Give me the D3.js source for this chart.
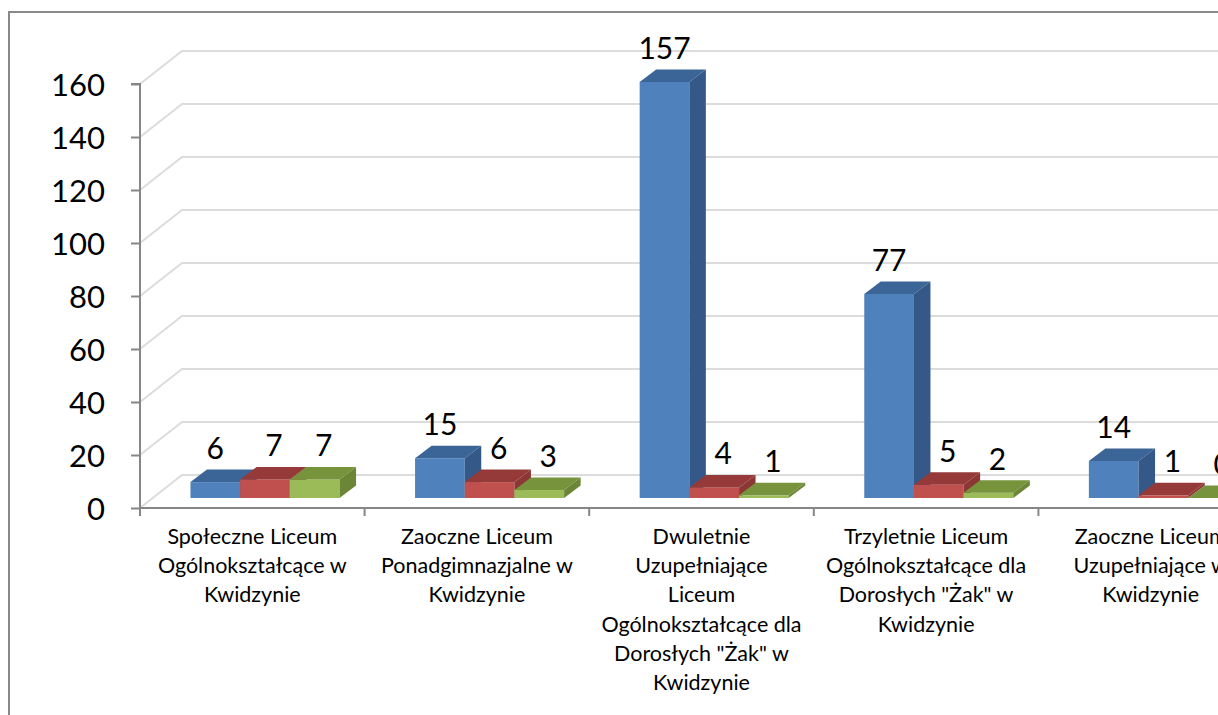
<!DOCTYPE html>
<html>
<head>
<meta charset="utf-8">
<script src="https://cdn.jsdelivr.net/npm/d3@7"></script>
<style>
  body { margin: 0; background: #fff; }
  svg { display: block; font-family: Lato, "Open Sans", sans-serif; }
</style>
</head>
<body>
<svg id="chart" width="1218" height="715"></svg>
<script>
// categories (already wrapped into lines as in the original)
var categories = [
  ["Społeczne Liceum", "Ogólnokształcące w", "Kwidzynie"],
  ["Zaoczne Liceum", "Ponadgimnazjalne w", "Kwidzynie"],
  ["Dwuletnie", "Uzupełniające", "Liceum", "Ogólnokształcące dla", "Dorosłych \"Żak\" w", "Kwidzynie"],
  ["Trzyletnie Liceum", "Ogólnokształcące dla", "Dorosłych \"Żak\" w", "Kwidzynie"],
  ["Zaoczne Liceum", "Uzupełniające w", "Kwidzynie"]
]
var seriesNames = ["s1", "s2", "s3"]
var series1 = [6, 15, 157, 77, 14]
var series2 = [7, 6, 4, 5, 1]
var series3 = [7, 3, 1, 2, 0]
var yTicks = [0, 20, 40, 60, 80, 100, 120, 140, 160]

var seriesValues = [series1, series2, series3]
var colors = [
  { front: '#4F81BD', top: '#3C6597', side: '#345887' },
  { front: '#C0504D', top: '#953A38', side: '#8C3735' },
  { front: '#9BBB59', top: '#77933C', side: '#6B8636' }
]

var svg = d3.select('#chart')

var plotLeft = 140, plotBottom = 508, plotTop = 84
var catStep = 224.6
var depth = { dx: 42, dy: -33 }     // back wall offset
var barOff = { dx: 12.7, dy: -10 }  // front of bars inside the floor
var barDepth = { dx: 16.5, dy: -12.5 }

var catIdx = categories.map((d, i) => i)

var x = d3.scaleBand()
  .domain(catIdx)
  .range([plotLeft, plotLeft + catStep * categories.length])
  .paddingInner(0).paddingOuter(0)

var xs = d3.scaleBand()
  .domain(seriesNames)
  .range([0, x.bandwidth()])
  .paddingInner(0).paddingOuter(0.76)

var y = d3.scaleLinear().domain([0, 160]).range([plotBottom, plotTop])

// outer frame
svg.append('rect')
  .attr('x', 9).attr('y', 12)
  .attr('width', 1400).attr('height', 900)
  .attr('fill', 'none').attr('stroke', '#898989').attr('stroke-width', 2)

// gridlines: left wall diagonal + back wall horizontal
var grid = svg.append('g').attr('fill', 'none').attr('stroke', '#DCDCDC').attr('stroke-width', 2)
yTicks.forEach(function (t) {
  var yy = y(t)
  grid.append('path')
    .attr('d', 'M' + plotLeft + ',' + yy + 'L' + (plotLeft + depth.dx) + ',' + (yy + depth.dy) + 'L1300,' + (yy + depth.dy))
})

// y axis
var yAxis = d3.axisLeft(y).tickValues(yTicks).tickSize(9).tickPadding(26)
var gy = svg.append('g').attr('transform', 'translate(' + plotLeft + ',0)').call(yAxis)
gy.select('.domain').attr('stroke', '#868686').attr('stroke-width', 2).attr('d', 'M-9,' + plotTop + 'H0V' + (plotBottom + 8))
gy.selectAll('.tick line').attr('stroke', '#868686').attr('stroke-width', 2)
gy.selectAll('.tick text')
  .attr('font-size', 31).attr('fill', '#000')
  .attr('font-family', 'Lato, sans-serif')
  .attr('dy', '0.36em')

// x axis line and ticks
var gx = svg.append('g').attr('stroke', '#868686').attr('stroke-width', 2)
gx.append('line').attr('x1', plotLeft).attr('x2', 1300).attr('y1', plotBottom).attr('y2', plotBottom)
catIdx.forEach(function (i) {
  var xx = x(i) + x.bandwidth()
  gx.append('line').attr('x1', xx).attr('x2', xx).attr('y1', plotBottom).attr('y2', plotBottom + 8)
})

// bars
var by = function (v) { return y(v) + barOff.dy }
var bars = svg.append('g')
catIdx.forEach(function (ci) {
  seriesNames.forEach(function (s, si) {
    var v = seriesValues[si][ci]
    var x0 = x(ci) + xs(s) + barOff.dx
    var x1 = x0 + xs.bandwidth()
    var yT = by(v), yB = by(0)
    var c = colors[si]
    var g = bars.append('g')
    g.append('rect')
      .attr('x', x0).attr('y', yT)
      .attr('width', x1 - x0).attr('height', yB - yT)
      .attr('fill', c.front)
    g.append('path')
      .attr('d', 'M' + x0 + ',' + yT + 'L' + (x0 + barDepth.dx) + ',' + (yT + barDepth.dy) +
        'L' + (x1 + barDepth.dx) + ',' + (yT + barDepth.dy) + 'L' + x1 + ',' + yT + 'Z')
      .attr('fill', c.top)
    g.append('path')
      .attr('d', 'M' + x1 + ',' + yT + 'L' + (x1 + barDepth.dx) + ',' + (yT + barDepth.dy) +
        'L' + (x1 + barDepth.dx) + ',' + (yB + barDepth.dy) + 'L' + x1 + ',' + yB + 'Z')
      .attr('fill', c.side)
  })
})

// data labels
var labels = svg.append('g').attr('font-size', 30).attr('fill', '#000').attr('text-anchor', 'middle')
catIdx.forEach(function (ci) {
  seriesNames.forEach(function (s, si) {
    var v = seriesValues[si][ci]
    var cx = x(ci) + xs(s) + barOff.dx + xs.bandwidth() / 2 + (si > 0 ? 9 : 0)
    labels.append('text')
      .attr('x', cx).attr('y', by(v) - 23)
      .text(v)
  })
})

// category labels
var cl = svg.append('g').attr('font-size', 21.5).attr('fill', '#000').attr('text-anchor', 'middle')
catIdx.forEach(function (ci) {
  var t = cl.append('text')
    .attr('x', x(ci) + x.bandwidth() / 2)
    .attr('y', plotBottom + 36)
  categories[ci].forEach(function (line, li) {
    t.append('tspan')
      .attr('x', x(ci) + x.bandwidth() / 2)
      .attr('dy', li === 0 ? 0 : 29.2)
      .text(line)
  })
})
</script>
</body>
</html>
